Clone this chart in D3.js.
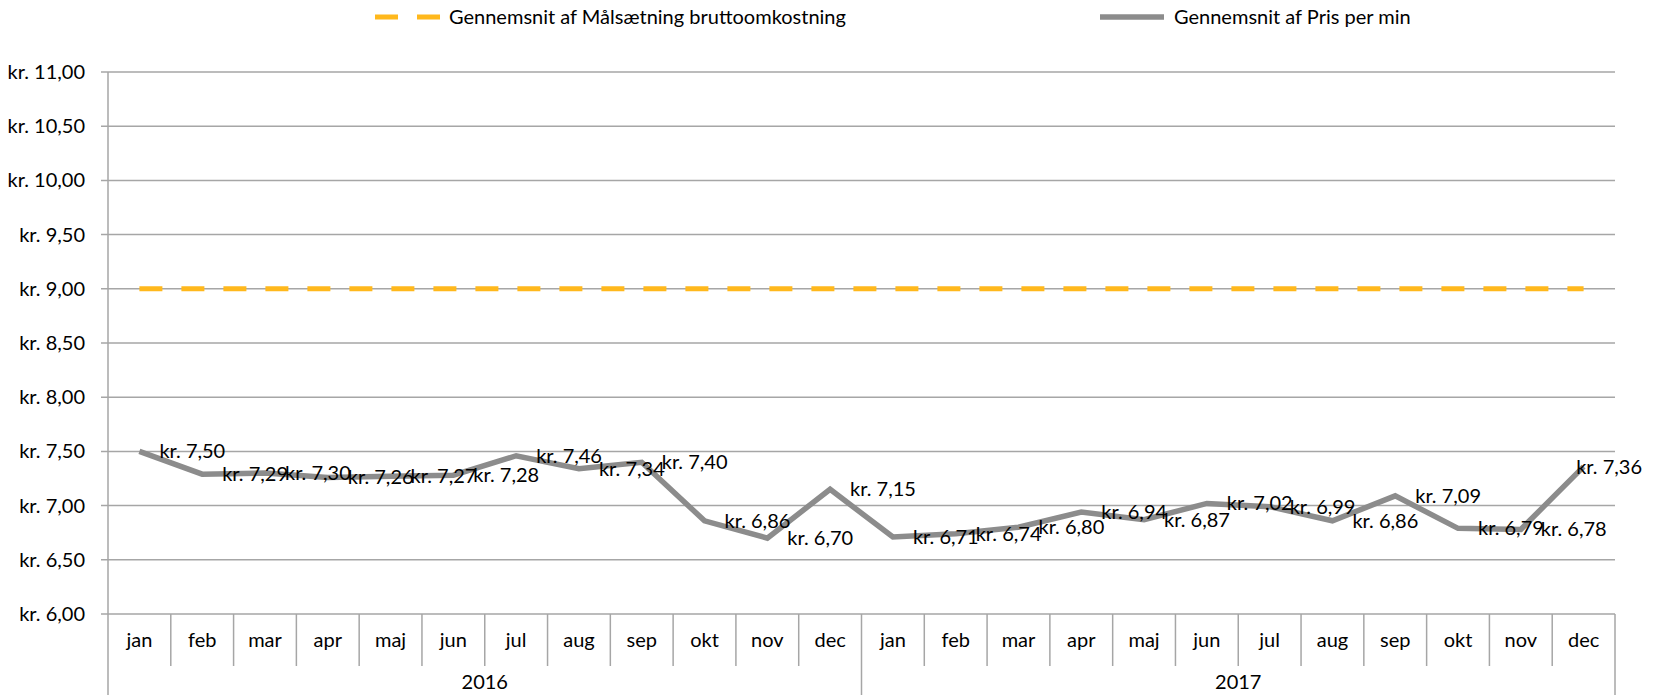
<!DOCTYPE html>
<html>
<head>
<meta charset="utf-8">
<script src="https://cdn.jsdelivr.net/npm/d3@7"></script>
<style>
  body { margin: 0; background: #fff; }
  svg { display: block; }
  text { font-family: Lato, "Open Sans", sans-serif; fill: #000; }
</style>
</head>
<body>
<svg></svg>
<script>
var width = 1658,
    height = 695;

var months = ["jan", "feb", "mar", "apr", "maj", "jun", "jul", "aug", "sep", "okt", "nov", "dec"];
var years = ["2016", "2017"];
var prisPerMin = [7.50, 7.29, 7.30, 7.26, 7.27, 7.28, 7.46, 7.34, 7.40, 6.86, 6.70, 7.15,
                  6.71, 6.74, 6.80, 6.94, 6.87, 7.02, 6.99, 6.86, 7.09, 6.79, 6.78, 7.36];
var maalsaetning = [9, 9, 9, 9, 9, 9, 9, 9, 9, 9, 9, 9,
                    9, 9, 9, 9, 9, 9, 9, 9, 9, 9, 9, 9];
var yTicks = [6.0, 6.5, 7.0, 7.5, 8.0, 8.5, 9.0, 9.5, 10.0, 10.5, 11.0];
var legendNames = ["Gennemsnit af Målsætning bruttoomkostning", "Gennemsnit af Pris per min"];

var svg = d3.select("svg")
    .attr("width", width)
    .attr("height", height);

var plotLeft = 108, plotRight = 1615, plotTop = 72, plotBottom = 614;
var catBottom = 666;
var fontSize = "20px";

var locale = d3.formatLocale({decimal: ",", thousands: ".", grouping: [3], currency: ["kr. ", ""]});
var fmt = locale.format("$.2f");

var categories = [];
years.forEach(function(y) {
    months.forEach(function(m) { categories.push(y + "-" + m); });
});

var x = d3.scaleBand().domain(categories).range([plotLeft, plotRight]);
var y = d3.scaleLinear().domain([6, 11]).range([plotBottom, plotTop]);

var gridColor = "#a6a6a6";

///////////////////////
// grid + y axis
///////////////////////

svg.selectAll(".grid")
    .data(yTicks)
    .enter()
    .append("line")
    .attr("x1", plotLeft - 7)
    .attr("x2", plotRight)
    .attr("y1", function(d) { return y(d); })
    .attr("y2", function(d) { return y(d); })
    .attr("stroke", gridColor)
    .attr("stroke-width", 1.5);

svg.selectAll(".ylabel")
    .data(yTicks)
    .enter()
    .append("text")
    .attr("x", plotLeft - 23)
    .attr("y", function(d) { return y(d); })
    .attr("dy", "0.35em")
    .attr("text-anchor", "end")
    .style("font-size", fontSize)
    .text(function(d) { return fmt(d); });

svg.append("line")
    .attr("x1", plotLeft).attr("x2", plotLeft)
    .attr("y1", plotTop).attr("y2", height)
    .attr("stroke", gridColor)
    .attr("stroke-width", 1.5);

///////////////////////
// category axis
///////////////////////

svg.selectAll(".msep")
    .data(categories)
    .enter()
    .append("line")
    .attr("x1", function(d) { return x(d) + x.bandwidth(); })
    .attr("x2", function(d) { return x(d) + x.bandwidth(); })
    .attr("y1", plotBottom)
    .attr("y2", function(d, i) { return (i + 1) % 12 == 0 ? height : catBottom; })
    .attr("stroke", gridColor)
    .attr("stroke-width", 1.5);

svg.selectAll(".mlabel")
    .data(categories)
    .enter()
    .append("text")
    .attr("x", function(d) { return x(d) + x.bandwidth() / 2; })
    .attr("y", (plotBottom + catBottom) / 2)
    .attr("dy", "0.35em")
    .attr("text-anchor", "middle")
    .style("font-size", fontSize)
    .text(function(d) { return d.split("-")[1]; });

svg.selectAll(".yearlabel")
    .data(years)
    .enter()
    .append("text")
    .attr("x", function(d) {
        return (x(d + "-jan") + x(d + "-dec") + x.bandwidth()) / 2;
    })
    .attr("y", 682)
    .attr("dy", "0.35em")
    .attr("text-anchor", "middle")
    .style("font-size", fontSize)
    .text(function(d) { return d; });

///////////////////////
// lines
///////////////////////

var line = d3.line()
    .x(function(d, i) { return x(categories[i]) + x.bandwidth() / 2; })
    .y(function(d) { return y(d); });

svg.append("path")
    .attr("d", line(maalsaetning))
    .attr("fill", "none")
    .attr("stroke", "#ffb81c")
    .attr("stroke-width", 5)
    .attr("stroke-dasharray", "23 19");

svg.append("path")
    .attr("d", line(prisPerMin))
    .attr("fill", "none")
    .attr("stroke", "#8c8c8c")
    .attr("stroke-width", 5.5)
    .attr("stroke-linejoin", "miter");

// labels sit right of the point; pushed back inside if they run off the edge
svg.selectAll(".dlabel")
    .data(prisPerMin)
    .enter()
    .append("text")
    .attr("y", function(d) { return y(d); })
    .attr("dy", "0.35em")
    .style("font-size", fontSize)
    .text(function(d) { return fmt(d); })
    .attr("x", function(d, i) {
        var px = x(categories[i]) + x.bandwidth() / 2 + 20;
        var w = this.getComputedTextLength();
        return Math.min(px, width - 16 - w);
    });

///////////////////////
// legend
///////////////////////

svg.append("line")
    .attr("x1", 375).attr("x2", 440)
    .attr("y1", 17).attr("y2", 17)
    .attr("stroke", "#ffb81c")
    .attr("stroke-width", 5)
    .attr("stroke-dasharray", "23 19");

svg.append("text")
    .attr("x", 449).attr("y", 17)
    .attr("dy", "0.35em")
    .style("font-size", fontSize)
    .text(legendNames[0]);

svg.append("line")
    .attr("x1", 1100).attr("x2", 1164)
    .attr("y1", 17).attr("y2", 17)
    .attr("stroke", "#8c8c8c")
    .attr("stroke-width", 5.5);

svg.append("text")
    .attr("x", 1174).attr("y", 17)
    .attr("dy", "0.35em")
    .style("font-size", fontSize)
    .text(legendNames[1]);
</script>
</body>
</html>
